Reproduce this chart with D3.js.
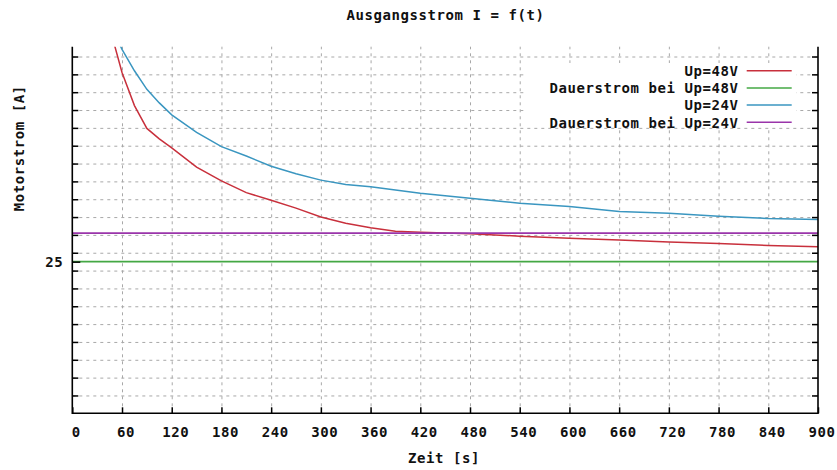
<!DOCTYPE html>
<html>
<head>
<meta charset="utf-8">
<script src="https://cdn.jsdelivr.net/npm/d3@7"></script>
<style>
  html, body { margin: 0; padding: 0; background: #fff; }
  svg { display: block; }
  text { font-family: "DejaVu Sans Mono", monospace; font-weight: bold; font-size: 14px; letter-spacing: 0.57px; fill: #111; }
</style>
</head>
<body>
<svg id="chart" width="837" height="470"></svg>
<script>
// ---- data ----
const xTickValues = [0, 60, 120, 180, 240, 300, 360, 420, 480, 540, 600, 660, 720, 780, 840, 900];
const yTickLabels = [25];

const timeUp48 = [50, 60, 75, 90, 105, 120, 150, 180, 210, 240, 270, 300, 330, 360, 390, 420, 450, 480, 540, 600, 660, 720, 780, 840, 900];
const currentUp48 = [37.3, 35.6, 33.75, 32.47, 31.88, 31.38, 30.3, 29.53, 28.87, 28.44, 28.0, 27.5, 27.15, 26.9, 26.71, 26.65, 26.6, 26.56, 26.43, 26.31, 26.22, 26.1, 26.02, 25.91, 25.84];

const timeUp24 = [55, 60, 75, 90, 105, 120, 150, 180, 210, 240, 270, 300, 330, 360, 420, 480, 540, 600, 660, 720, 780, 840, 900];
const currentUp24 = [37.4, 36.9, 35.7, 34.66, 33.9, 33.23, 32.25, 31.45, 30.92, 30.35, 29.93, 29.57, 29.33, 29.2, 28.84, 28.56, 28.28, 28.09, 27.81, 27.72, 27.55, 27.42, 27.37];

const dauerstromUp48 = 25.0;
const dauerstromUp24 = 26.6;

const legendLabels = ["Up=48V", "Dauerstrom bei Up=48V", "Up=24V", "Dauerstrom bei Up=24V"];
const seriesColors = ["#c8303c", "#44a844", "#3a96c0", "#9a34aa"];

const titleText = "Ausgangsstrom I = f(t)";
const xLabelText = "Zeit [s]";
const yLabelText = "Motorstrom [A]";

(function () {
// ---- layout ----
const W = 837, H = 470;
const pL = 72.3, pR = 818, pT = 46.7, pB = 413.3;
const yDomain = [16.5, 37.05];
const gridStep = 1;

const svg = d3.select("#chart");
svg.append("rect").attr("width", W).attr("height", H).attr("fill", "#fff");

const x = d3.scaleLinear().domain([0, 900]).range([pL, pR]);
const y = d3.scaleLinear().domain(yDomain).range([pB, pT]);

const yGrid = d3.range(yDomain[0] + gridStep, yDomain[1], gridStep);

svg.append("defs").append("clipPath").attr("id", "clip")
  .append("rect").attr("x", pL).attr("y", pT).attr("width", pR - pL).attr("height", pB - pT);

// grid
const gridX = svg.append("g").attr("transform", `translate(0,${pB})`)
  .call(d3.axisBottom(x).tickValues(xTickValues.slice(1, -1)).tickSize(-(pB - pT)).tickFormat(""));
const gridY = svg.append("g").attr("transform", `translate(${pL},0)`)
  .call(d3.axisLeft(y).tickValues(yGrid).tickSize(-(pR - pL)).tickFormat(""));
[gridX, gridY].forEach(g => {
  g.select(".domain").remove();
  g.selectAll(".tick line").attr("stroke", "#a8a8a8").attr("stroke-width", 1).attr("stroke-dasharray", "3,4");
});

// legend box (opaque)
svg.append("rect").attr("x", 525).attr("y", 63).attr("width", 271).attr("height", 64).attr("fill", "#fff");

// lines
const plot = svg.append("g").attr("clip-path", "url(#clip)");
const line = d3.line().x(d => x(d[0])).y(d => y(d[1]));

plot.append("path").datum(d3.zip(timeUp48, currentUp48)).attr("d", line)
  .attr("fill", "none").attr("stroke", seriesColors[0]).attr("stroke-width", 1.5);
plot.append("path").datum([[0, dauerstromUp48], [900, dauerstromUp48]]).attr("d", line)
  .attr("fill", "none").attr("stroke", seriesColors[1]).attr("stroke-width", 1.6);
plot.append("path").datum(d3.zip(timeUp24, currentUp24)).attr("d", line)
  .attr("fill", "none").attr("stroke", seriesColors[2]).attr("stroke-width", 1.5);
plot.append("path").datum([[0, dauerstromUp24], [900, dauerstromUp24]]).attr("d", line)
  .attr("fill", "none").attr("stroke", seriesColors[3]).attr("stroke-width", 1.6);

// axes: bottom ticks + labels
const xAxis = svg.append("g").attr("transform", `translate(0,${pB})`)
  .call(d3.axisBottom(x).tickValues(xTickValues).tickSize(-6).tickFormat(d3.format("d")));
xAxis.select(".domain").remove();
xAxis.selectAll(".tick line").attr("stroke", "#000").attr("stroke-width", 1.5);
xAxis.selectAll(".tick text").attr("y", 24).attr("dy", 0).attr("x", 3.5)
  .style("font-family", "'DejaVu Sans Mono', monospace").style("font-size", "14px").style("font-weight", "bold").attr("fill", "#111");

// left/right minor ticks
const yMinorL = svg.append("g").attr("transform", `translate(${pL},0)`)
  .call(d3.axisLeft(y).tickValues(yGrid).tickSize(-6).tickFormat(""));
const yMinorR = svg.append("g").attr("transform", `translate(${pR},0)`)
  .call(d3.axisRight(y).tickValues(yGrid).tickSize(-6).tickFormat(""));
[yMinorL, yMinorR].forEach(g => {
  g.select(".domain").remove();
  g.selectAll(".tick line").attr("stroke", "#000").attr("stroke-width", 1.5);
});
// left labelled tick
const yAxis = svg.append("g").attr("transform", `translate(${pL},0)`)
  .call(d3.axisLeft(y).tickValues(yTickLabels).tickSize(-8).tickPadding(9).tickFormat(d3.format("d")));
yAxis.select(".domain").remove();
yAxis.selectAll(".tick line").attr("stroke", "#000").attr("stroke-width", 1.5);
yAxis.selectAll(".tick text").attr("dy", "0.38em")
  .style("font-family", "'DejaVu Sans Mono', monospace").style("font-size", "14px").style("font-weight", "bold").attr("fill", "#111");

// border (left, bottom, right)
svg.append("path")
  .attr("d", `M${pL},${pT}V${pB}H${pR}V${pT}`)
  .attr("fill", "none").attr("stroke", "#000").attr("stroke-width", 1.6);

// legend
const legendRight = 738.5, sampleX0 = 746.7, sampleX1 = 791.7;
const legendY0 = 70.7, legendDY = 17.2;
legendLabels.forEach((lab, i) => {
  const yy = legendY0 + i * legendDY;
  svg.append("text").attr("x", legendRight).attr("y", yy + 5.2).attr("text-anchor", "end").text(lab);
  svg.append("line").attr("x1", sampleX0).attr("x2", sampleX1).attr("y1", yy).attr("y2", yy)
    .attr("stroke", seriesColors[i]).attr("stroke-width", 1.5);
});

// titles
svg.append("text").attr("x", 445.5).attr("y", 20).attr("text-anchor", "middle").text(titleText);
svg.append("text").attr("x", 444).attr("y", 463).attr("text-anchor", "middle").text(xLabelText);
svg.append("text").attr("transform", "translate(23.5,148.3) rotate(-90)").attr("text-anchor", "middle").text(yLabelText);
})();
</script>
</body>
</html>
